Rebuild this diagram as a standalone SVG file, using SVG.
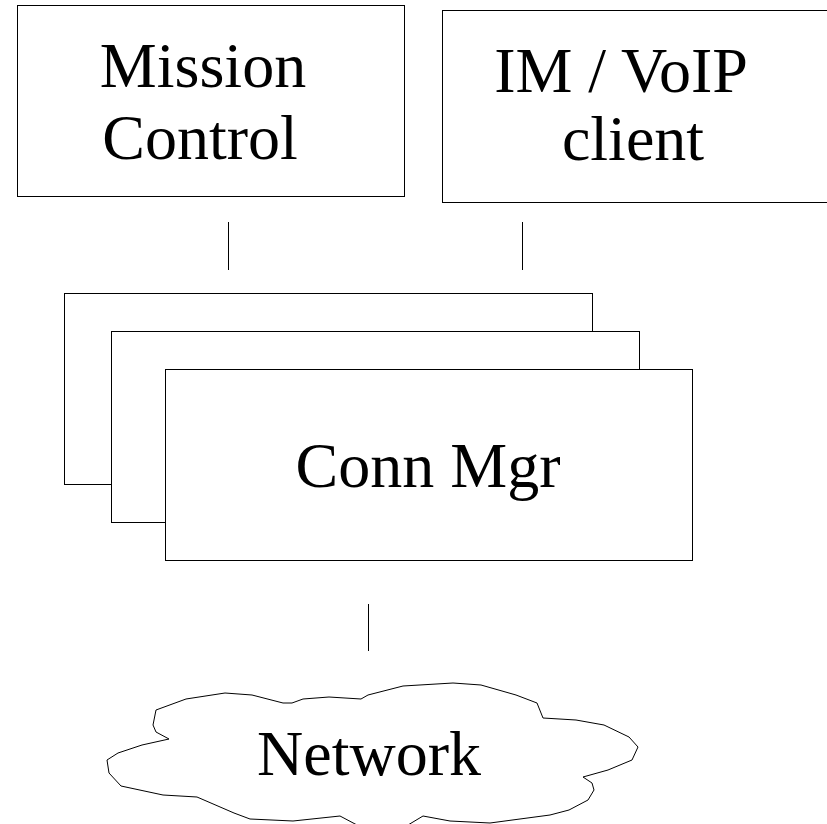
<svg xmlns="http://www.w3.org/2000/svg" width="827" height="824" viewBox="0 0 827 824">
<style>
.box{fill:#fff;stroke:#000;stroke-width:1}
.conn{stroke:#000;stroke-width:1;fill:none}
.lbl{font-family:"Liberation Serif","Times New Roman",serif;font-size:64px;fill:#000;text-anchor:middle}
</style>
<rect x="0" y="0" width="827" height="824" fill="#fff"/>
<g id="mission-control">
<rect class="box" x="17.5" y="5.5" width="387" height="191"/>
<text class="lbl" x="203" y="87">Mission</text>
<text class="lbl" x="200" y="159">Control</text>
</g>
<g id="im-voip-client">
<rect class="box" x="442.5" y="10.5" width="390" height="192"/>
<text class="lbl" x="621" y="92">IM / VoIP</text>
<text class="lbl" x="633" y="160">client</text>
</g>
<g id="conn-mgr">
<rect class="box" x="64.5" y="293.5" width="528" height="191"/>
<rect class="box" x="111.5" y="331.5" width="528" height="191"/>
<rect class="box" x="165.5" y="369.5" width="527" height="191"/>
<text class="lbl" x="428" y="487">Conn Mgr</text>
</g>
<g id="network">
<path class="box" d="M156,710 L186,699 L225,693 L252,695 L283,703 L292,703 L303,699 L329,697 L361,699 L368,695 L403,686 L453,683 L481,685 L516,695 L537,703 L543,718 L576,720 L604,725 L629,737 L638,747 L632,760 L608,770 L583,777 L592,783 L594,790 L588,800 L569,810 L550,815 L490,823 L450,821 L423,816 L408,825 L357,825 L340,816 L293,821 L250,819 L234,813 L197,797 L163,795 L121,786 L109,773 L107,760 L118,753 L142,745 L169,739 L156,732 L153,725 Z"/>
<text class="lbl" x="369" y="775">Network</text>
</g>
<g id="connectors">
<line class="conn" x1="228.5" y1="222" x2="228.5" y2="270"/>
<line class="conn" x1="522.5" y1="222" x2="522.5" y2="270"/>
<line class="conn" x1="368.5" y1="604" x2="368.5" y2="651"/>
</g>
</svg>
